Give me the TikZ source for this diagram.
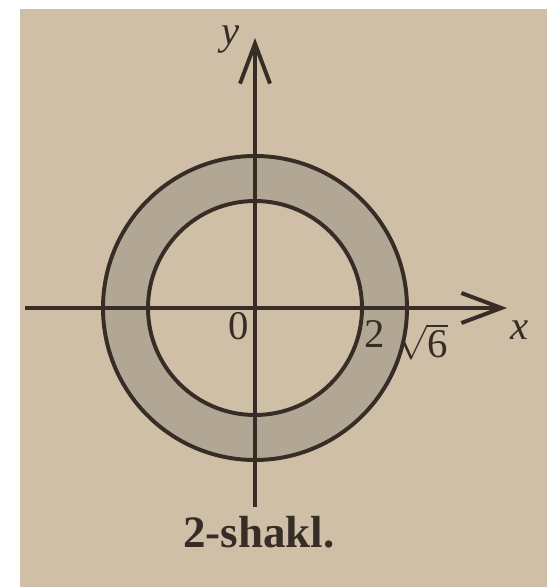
\documentclass[tikz,border=0pt]{standalone}
\usepackage{amsmath}
\usepackage{fontspec}
\setmainfont{Liberation Serif}
\usetikzlibrary{arrows.meta}
\definecolor{paper}{RGB}{206,191,166}
\definecolor{ring}{RGB}{178,166,148}
\definecolor{ink}{RGB}{55,45,38}

\begin{document}
\begin{tikzpicture}[
    axisline/.style={draw=ink, line width=3.2pt, -{Straight Barb[length=1.0cm, width=0.75cm, line width=2.8pt]}},
    circleline/.style={draw=ink, line width=2.8pt},
    lbl/.style={text=ink, inner sep=0pt, font=\fontsize{29}{34}\selectfont}
  ]
  % background
  \fill[white] (-6.375,-6.975) rectangle (7.3,7.7);
  \fill[paper] (-5.875,-6.975) rectangle (7.3,7.475);
  \useasboundingbox (-6.375,-6.975) rectangle (7.3,7.7);

  % shaded ring
  \fill[ring, even odd rule] (0,0) circle (3.8) (0,0) circle (2.675);
  \draw[circleline] (0,0) circle (3.8);
  \draw[circleline] (0,0) circle (2.675);

  % axis
  \coordinate (x start) at (-5.75,0);
  \coordinate (x axis) at (6.3,0);
  \coordinate (y start) at (0,-4.975);
  \coordinate (y axis) at (0,6.75);
  \draw[axisline] (x start) -- (x axis);
  \draw[axisline, line width=2.3pt] (y start) -- (y axis);

  % labels
  \node[lbl] (ylabel) at (-0.6,6.7) {\textit{y}};
  \node[lbl] (xlabel) at (6.625,-0.55) {\textit{x}};
  \node[lbl] (zero) at (-0.4,-0.45) {0};
  \node[lbl] (two) at (3.0,-0.65) {2};
  \node[lbl] (sqrtsix) at (4.2,-0.85) {$\sqrt{\text{6}}$};

  % caption
  \node[text=ink, font=\fontsize{32}{38}\selectfont\bfseries] (caption) at (0.1,-5.6) {2-shakl.};
\end{tikzpicture}
\end{document}
